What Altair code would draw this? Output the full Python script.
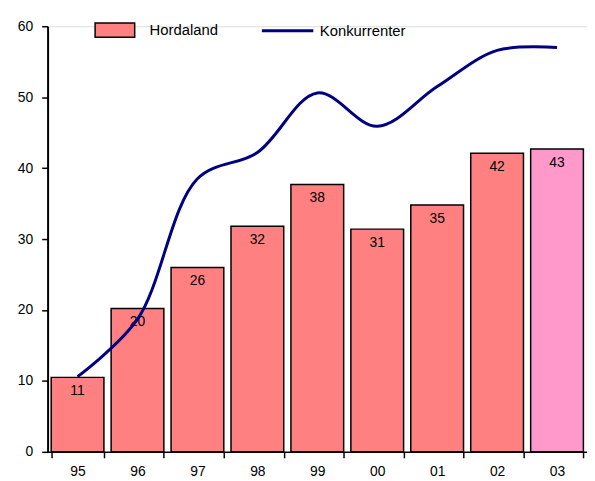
import altair as alt
import pandas as pd

years = ["95", "96", "97", "98", "99", "00", "01", "02", "03"]
hordaland = [10.5, 20.2, 26.0, 31.8, 37.7, 31.4, 34.8, 42.1, 42.7]
bar_labels = ["11", "20", "26", "32", "38", "31", "35", "42", "43"]
bar_kind = ["Hordaland"] * 8 + ["2003"]
konkurrenter = [10.6, 18.7, 38.5, 42.2, 50.6, 45.9, 51.5, 56.6, 57.0]

df = pd.DataFrame({
    "year": years,
    "Hordaland": hordaland,
    "label": bar_labels,
    "kind": bar_kind,
    "Konkurrenter": konkurrenter,
    "series": ["Konkurrenter"] * len(years),
})

FONT = "Liberation Sans"

x = alt.X("year:N", sort=years, title=None,
          scale=alt.Scale(paddingInner=0.12, paddingOuter=0.06),
          axis=alt.Axis(labelAngle=0, tickBand="extent", labelFontSize=14,
                        labelColor="black", labelPadding=7, tickSize=6,
                        tickColor="black", domainColor="black",
                        domainWidth=1.5, tickWidth=1.5, grid=False))
y_scale = alt.Scale(domain=[0, 60], nice=False)

bars = alt.Chart(df).mark_bar(stroke="black", strokeWidth=1.5).encode(
    x=x,
    y=alt.Y("Hordaland:Q", scale=y_scale, title=None,
            axis=alt.Axis(values=[0, 10, 20, 30, 40, 50, 60], labelFontSize=14,
                          labelColor="black", tickSize=6, tickColor="black",
                          domainColor="black", domainWidth=2, tickWidth=1.5,
                          labelPadding=9, grid=False)),
    fill=alt.Fill("kind:N",
                  scale=alt.Scale(domain=["Hordaland", "2003"],
                                  range=["#FF8080", "#FF99CC"]),
                  legend=alt.Legend(title=None, values=["Hordaland"],
                                    orient="none", legendX=47, legendY=-17,
                                    symbolType="M-1,-0.36H1V0.36H-1Z",
                                    symbolSize=1600, symbolStrokeColor="black",
                                    symbolStrokeWidth=1.5, labelFontSize=15,
                                    labelColor="black", labelFont=FONT,
                                    labelOffset=14)),
)

texts = alt.Chart(df).mark_text(baseline="top", dy=7, fontSize=14,
                                font=FONT, color="black").encode(
    x=alt.X("year:N", sort=years),
    y=alt.Y("Hordaland:Q", scale=y_scale),
    text="label:N",
)

line = alt.Chart(df).mark_line(strokeWidth=3, interpolate="catmull-rom").encode(
    x=alt.X("year:N", sort=years),
    y=alt.Y("Konkurrenter:Q", scale=y_scale),
    stroke=alt.Stroke("series:N",
                      scale=alt.Scale(domain=["Konkurrenter"], range=["#000080"]),
                      legend=alt.Legend(title=None, orient="none",
                                        legendX=215, legendY=-23,
                                        symbolType="stroke", symbolSize=2700,
                                        symbolStrokeWidth=3, labelFontSize=15,
                                        labelColor="black", labelFont=FONT,
                                        labelOffset=5)),
)

chart = alt.layer(bars, texts, line).resolve_scale(
    fill="independent", stroke="independent"
).properties(
    width=545, height=430,
    autosize=alt.AutoSizeParams(type="none"),
    padding={"left": 40, "top": 16, "right": 0, "bottom": 27},
).configure_view(stroke=None).configure_axis(
    labelFont=FONT
).configure(background="white")

chart.save("out.html", embed_options={"renderer": "svg", "actions": False})
